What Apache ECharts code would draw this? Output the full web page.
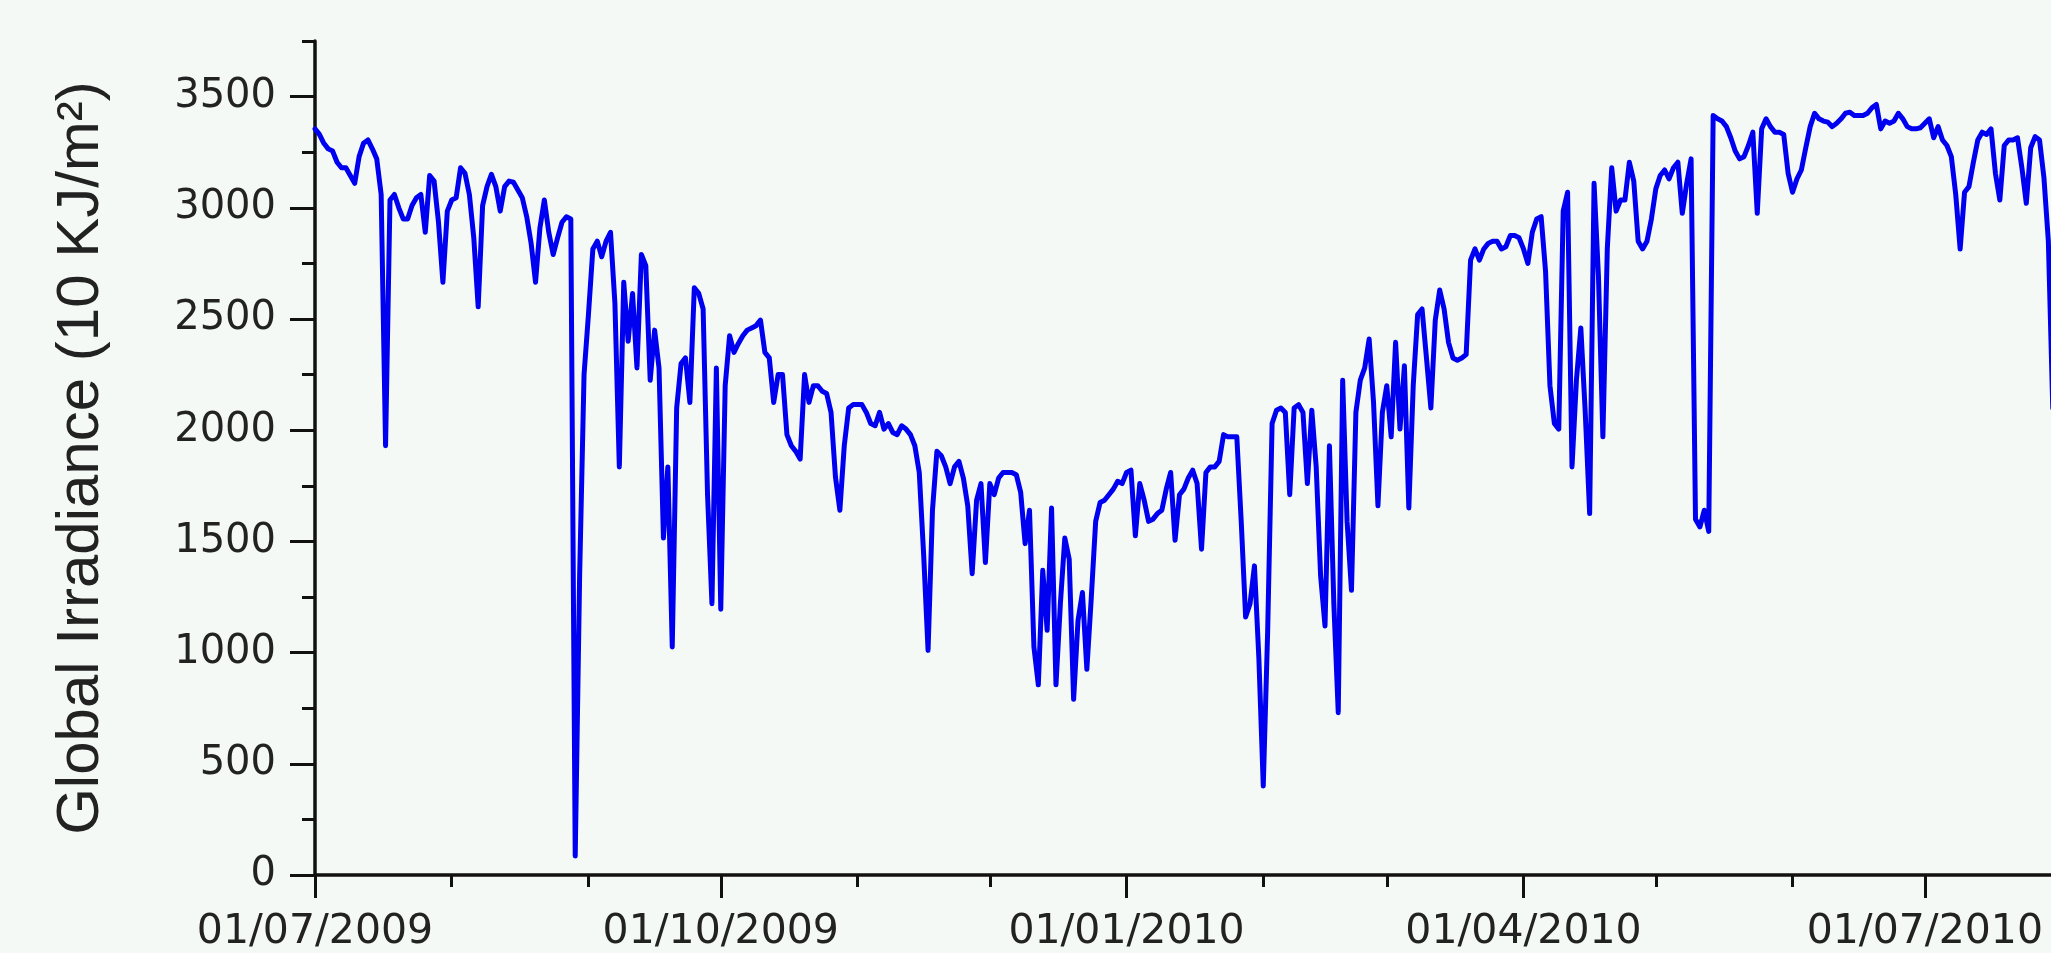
<!DOCTYPE html>
<html>
<head>
<meta charset="utf-8">
<title>Global Irradiance</title>
<script src="https://cdn.jsdelivr.net/npm/echarts@6/dist/echarts.min.js"></script>
<style>
  html, body { margin: 0; padding: 0; background: #f4f9f6; }
  #chart { width: 2051px; height: 953px; }
</style>
</head>
<body>
<div id="chart"></div>
<script>
// daily global irradiance (10 KJ/m2), one value per day from startDate on
var startDate = '2009-07-01';
var irradiance = [
  // jul - early sep 2009
  3355, 3330, 3290, 3265, 3255, 3205, 3180, 3180, 3145, 3110,
  3230, 3290, 3305, 3265, 3220, 3060, 1930, 3035, 3060, 3000,
  2950, 2950, 3010, 3045, 3060, 2890, 3145, 3120, 2935, 2665,
  2985, 3035, 3045, 3180, 3155, 3060, 2865, 2555, 3010, 3095,
  3150, 3095, 2985, 3095, 3120, 3115, 3080, 3045, 2960, 2840,
  2665, 2910, 3035, 2890, 2790, 2865, 2935, 2960, 2950, 85,
  1345, 2250, 2520, 2815, 2850, 2780,
  // sep - nov 2009
  2850, 2890, 2570, 1835, 2665, 2400, 2615, 2280, 2790, 2740,
  2225, 2450, 2280, 1515, 1835, 1025, 2100, 2300, 2325, 2125,
  2640, 2615, 2545, 1710, 1220, 2280, 1195, 2200, 2425, 2350,
  2390, 2425, 2450, 2460, 2470, 2495, 2350, 2325, 2125, 2250,
  2250, 1980, 1930, 1905, 1870, 2250, 2125, 2200, 2200, 2175,
  2165, 2080, 1790, 1640, 1930, 2100, 2115, 2115, 2115, 2080,
  2030, 2020, 2080, 2005, 2030, 1990,
  // nov 2009 - jan 2010
  1980, 2020, 2005, 1980, 1930, 1810, 1440, 1010, 1640, 1905,
  1885, 1835, 1760, 1835, 1860, 1785, 1660, 1355, 1685, 1760,
  1405, 1760, 1710, 1785, 1810, 1810, 1810, 1800, 1720, 1490,
  1640, 1025, 855, 1370, 1100, 1650, 855, 1220, 1515, 1420,
  790, 1145, 1270, 925, 1245, 1590, 1675, 1685, 1710, 1735,
  1770, 1760, 1810, 1820, 1525, 1760, 1685, 1590, 1600, 1625,
  1640, 1735, 1810, 1505, 1710, 1735,
  // jan - mar 2010
  1785, 1820, 1760, 1465, 1810, 1835, 1835, 1860, 1980, 1970,
  1970, 1970, 1590, 1160, 1220, 1390, 975, 400, 1100, 2030,
  2090, 2100, 2080, 1710, 2100, 2115, 2080, 1760, 2090, 1835,
  1345, 1120, 1930, 1220, 730, 2225, 1590, 1280, 2080, 2225,
  2280, 2410, 2125, 1660, 2080, 2200, 1970, 2395, 2005, 2290,
  1650, 2200, 2520, 2545, 2325, 2100, 2495, 2630, 2545, 2395,
  2325, 2315, 2325, 2340, 2765, 2815,
  // mar - may 2010
  2765, 2815, 2840, 2850, 2850, 2815, 2825, 2875, 2875, 2865,
  2815, 2750, 2890, 2950, 2960, 2715, 2200, 2030, 2005, 2985,
  3070, 1835, 2225, 2460, 2080, 1625, 3110, 2690, 1970, 2815,
  3180, 2985, 3035, 3035, 3205, 3120, 2850, 2815, 2850, 2950,
  3085, 3145, 3170, 3130, 3180, 3205, 2975, 3110, 3220, 1600,
  1565, 1640, 1545, 3415, 3400, 3390, 3365, 3315, 3255, 3220,
  3230, 3280, 3340, 2975, 3355,
  // may - jul 2010
  3400, 3365, 3340, 3340, 3330, 3155, 3070, 3130, 3170, 3270,
  3365, 3425, 3400, 3390, 3385, 3365, 3380, 3400, 3425, 3430,
  3415, 3415, 3415, 3425, 3450, 3465, 3355, 3390, 3380, 3390,
  3425, 3400, 3365, 3355, 3355, 3360, 3380, 3400, 3315, 3365,
  3305, 3280, 3230, 3060, 2815, 3070, 3095, 3205, 3305, 3340,
  3330, 3355, 3155, 3035, 3280, 3305, 3305, 3315, 3180, 3020,
  3270, 3320, 3305, 3135, 2850, 2100
];

// month starts get a short tick, quarter starts get a long tick and a label
var monthTicks = [
  '2009-07-01', '2009-08-01', '2009-09-01', '2009-10-01', '2009-11-01',
  '2009-12-01', '2010-01-01', '2010-02-01', '2010-03-01', '2010-04-01',
  '2010-05-01', '2010-06-01', '2010-07-01'
];
var dateLabels = ['2009-07-01', '2009-10-01', '2010-01-01', '2010-04-01', '2010-07-01'];
var yLabels = [0, 500, 1000, 1500, 2000, 2500, 3000, 3500];

var DAY = 86400000;

function toTime(str) {
  var p = str.split('-');
  return Date.UTC(+p[0], +p[1] - 1, +p[2]);
}
function pad(n) {
  return n < 10 ? '0' + n : '' + n;
}
function formatDate(t) {
  var d = new Date(t);
  return pad(d.getUTCDate()) + '/' + pad(d.getUTCMonth() + 1) + '/' + d.getUTCFullYear();
}

var t0 = toTime(startDate);
var xEnd = t0 + 393.6 * DAY; // the plot is cut off just before 30/07/2010
var seriesData = irradiance.map(function (v, i) {
  return [t0 + i * DAY, v];
});

var axisColor = '#111';
var textColor = '#222';
var axisLineStyle = { color: axisColor, width: 3.5 };
var tickLineStyle = { color: axisColor, width: 3 };

var chart = echarts.init(document.getElementById('chart'));
chart.setOption({
  backgroundColor: '#f4f9f6',
  animation: false,
  grid: { left: 315, right: 0, top: 41, bottom: 73 },
  // x values are timestamps on a plain value axis, ticks placed on month starts
  xAxis: [
    {
      type: 'value', min: t0, max: xEnd, position: 'bottom',
      axisLine: { show: true, onZero: false, lineStyle: axisLineStyle },
      axisTick: { show: true, customValues: monthTicks.map(toTime), length: 12, lineStyle: tickLineStyle },
      axisLabel: { show: false },
      splitLine: { show: false }
    },
    {
      type: 'value', min: t0, max: xEnd, position: 'bottom',
      axisLine: { show: false, onZero: false },
      axisTick: { show: true, customValues: dateLabels.map(toTime), length: 23, lineStyle: tickLineStyle },
      axisLabel: {
        customValues: dateLabels.map(toTime),
        formatter: formatDate,
        fontFamily: 'DejaVu Sans', fontSize: 41, color: textColor, margin: 37
      },
      splitLine: { show: false }
    }
  ],
  yAxis: [
    {
      type: 'value', min: 0, max: 3750, interval: 250, position: 'left',
      axisLine: { show: true, onZero: false, lineStyle: axisLineStyle },
      axisTick: { show: true, length: 13, lineStyle: tickLineStyle },
      axisLabel: { show: false },
      splitLine: { show: false }
    },
    {
      type: 'value', min: 0, max: 3750, position: 'left',
      axisLine: { show: false, onZero: false },
      axisTick: { show: true, customValues: yLabels, length: 25, lineStyle: tickLineStyle },
      axisLabel: {
        customValues: yLabels,
        formatter: function (v) { return String(v); },
        fontFamily: 'DejaVu Sans', fontSize: 40, color: textColor, margin: 39
      },
      splitLine: { show: false },
      name: 'Global Irradiance (10 KJ/m\u00b2)',
      nameLocation: 'middle',
      nameRotate: 90,
      nameGap: 204,
      nameTextStyle: { fontFamily: 'Liberation Sans', fontSize: 60, color: textColor }
    }
  ],
  series: [{
    type: 'line',
    xAxisIndex: 0,
    yAxisIndex: 0,
    data: seriesData,
    showSymbol: false,
    clip: true,
    lineStyle: { color: '#0000f0', width: 5, join: 'round', cap: 'round' }
  }]
});

window.addEventListener('resize', function () {
  chart.resize();
});
</script>
</body>
</html>
